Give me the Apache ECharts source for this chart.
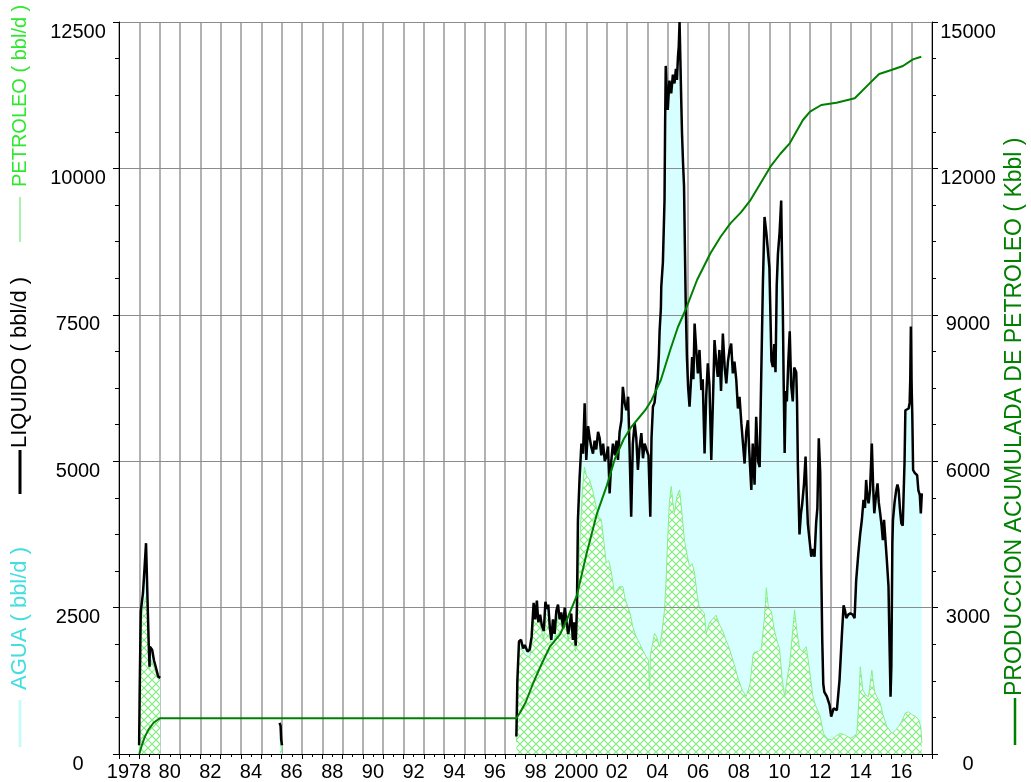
<!DOCTYPE html>
<html>
<head>
<meta charset="utf-8">
<title>Produccion</title>
<script src="https://cdn.jsdelivr.net/npm/echarts@6/dist/echarts.min.js"></script>
<style>
  html, body { margin: 0; padding: 0; background: #fff; }
  #prodChart { width: 1031px; height: 782px; }
</style>
</head>
<body>
<div id="prodChart"></div>
<script>
// etiquetas del eje de tiempo (una cada 2 años, desde 1978)
const xLabels = ['1978', '80', '82', '84', '86', '88', '90', '92', '94', '96', '98',
  '2000', '02', '04', '06', '08', '10', '12', '14', '16'];

// LIQUIDO (bbl/d) - [año decimal, valor]
const liquido = [
  [1978.99, 150], [1979.02, 1130], [1979.07, 2430], [1979.15, 2460], [1979.18, 2750], [1979.25, 3140],
  [1979.33, 3600], [1979.42, 3620], [1979.46, 1900], [1979.5, 1490], [1979.52, 1830], [1979.63, 1780],
  [1979.72, 1600], [1979.85, 1430], [1979.93, 1320], [1980.03, 1300], [1980.05, null],
  [1985.9, 530], [1985.95, 480], [1985.98, 250], [1986.02, 150], [1986.05, null],
  [1997.55, 300], [1997.6, 1260], [1997.68, 1920], [1997.78, 1950], [1997.88, 1800], [1997.96, 1860],
  [1998.1, 1750], [1998.2, 1780], [1998.3, 2000], [1998.4, 2580], [1998.48, 2300], [1998.56, 2620],
  [1998.63, 2250], [1998.72, 2380], [1998.8, 2200], [1998.9, 2100], [1998.98, 2600], [1999.05, 2480],
  [1999.12, 2550], [1999.2, 2150], [1999.27, 1950], [1999.35, 2300], [1999.43, 2050], [1999.52, 2450],
  [1999.6, 2550], [1999.68, 2300], [1999.76, 2420], [1999.85, 2150], [1999.93, 2500], [2000.0, 2300],
  [2000.1, 2050], [2000.17, 2200], [2000.25, 2400], [2000.33, 1950], [2000.4, 2250], [2000.47, 1850],
  [2000.53, 2500], [2000.58, 4000], [2000.66, 4700], [2000.75, 5300], [2000.83, 5130], [2000.91, 5990],
  [2000.99, 5020], [2001.08, 5600], [2001.15, 5420], [2001.23, 5250], [2001.32, 5130], [2001.4, 5350],
  [2001.48, 5200], [2001.57, 5500], [2001.65, 5390], [2001.73, 5100], [2001.82, 5300], [2001.9, 5000],
  [2001.98, 5080], [2002.06, 5250], [2002.14, 4450], [2002.22, 5000], [2002.3, 5300], [2002.4, 5100],
  [2002.48, 5350], [2002.55, 5020], [2002.63, 5500], [2002.72, 5700], [2002.79, 6270], [2002.88, 6000],
  [2002.96, 5870], [2003.05, 6100], [2003.12, 5200], [2003.2, 4050], [2003.28, 5300], [2003.37, 5650],
  [2003.45, 5400], [2003.53, 4850], [2003.6, 5200], [2003.7, 5480], [2003.78, 5050], [2003.86, 5300],
  [2003.95, 5200], [2004.05, 5100], [2004.14, 4050], [2004.2, 5400], [2004.27, 5930], [2004.35, 6000],
  [2004.43, 6270], [2004.5, 6390], [2004.56, 6800], [2004.6, 7240], [2004.66, 7600], [2004.68, 7980],
  [2004.76, 8400], [2004.84, 9460], [2004.87, 10800], [2004.9, 11750], [2004.95, 11300], [2005.0, 11000],
  [2005.08, 11500], [2005.17, 11280], [2005.25, 11600], [2005.33, 11450], [2005.4, 11700], [2005.45, 11510],
  [2005.5, 11900], [2005.54, 12080], [2005.58, 12500], [2005.62, 12480], [2005.66, 11200], [2005.7, 10600],
  [2005.75, 10100], [2005.8, 9690], [2005.84, 8700], [2005.88, 7750], [2005.94, 6800], [2006.0, 6270],
  [2006.07, 5930], [2006.13, 6300], [2006.2, 6780], [2006.26, 6400], [2006.32, 7350], [2006.4, 6900],
  [2006.48, 6500], [2006.56, 6900], [2006.65, 6215], [2006.72, 6400], [2006.81, 5130], [2006.89, 6100],
  [2006.97, 6670], [2007.05, 6300], [2007.14, 5020], [2007.22, 6000], [2007.3, 7070], [2007.38, 6700],
  [2007.46, 6440], [2007.54, 6900], [2007.62, 6200], [2007.71, 7180], [2007.8, 6600], [2007.88, 6330],
  [2007.96, 6700], [2008.04, 6900], [2008.12, 7010], [2008.2, 6500], [2008.28, 6700], [2008.37, 6390],
  [2008.45, 5900], [2008.53, 6100], [2008.62, 5650], [2008.7, 5300], [2008.78, 4960], [2008.86, 5500],
  [2008.94, 5700], [2009.02, 5100], [2009.11, 4510], [2009.18, 5300], [2009.27, 4600], [2009.35, 5760],
  [2009.44, 5000], [2009.52, 4900], [2009.6, 6500], [2009.68, 8040], [2009.76, 9170], [2009.85, 8900],
  [2009.93, 8920], [2010.0, 8300], [2010.1, 6710], [2010.17, 6610], [2010.24, 7000], [2010.3, 6520],
  [2010.36, 8000], [2010.42, 8540], [2010.5, 8900], [2010.58, 9450], [2010.62, 8500], [2010.66, 7600],
  [2010.7, 6400], [2010.75, 5140], [2010.8, 6200], [2010.86, 6020], [2010.93, 6700], [2011.0, 7220],
  [2011.07, 6300], [2011.15, 6020], [2011.22, 6600], [2011.32, 6520], [2011.36, 6000], [2011.4, 4950],
  [2011.48, 3750], [2011.55, 4100], [2011.61, 4260], [2011.7, 4600], [2011.78, 5080], [2011.84, 4400],
  [2011.89, 3940], [2011.96, 3700], [2012.06, 3370], [2012.14, 3500], [2012.22, 3370], [2012.3, 3950],
  [2012.36, 4200], [2012.43, 5390], [2012.5, 4800], [2012.55, 3190], [2012.6, 1950], [2012.65, 1200],
  [2012.7, 1060], [2012.83, 980], [2012.96, 840], [2013.04, 640], [2013.16, 780], [2013.24, 800],
  [2013.32, 750], [2013.45, 1260], [2013.57, 2060], [2013.65, 2540], [2013.72, 2450], [2013.78, 2320],
  [2013.88, 2380], [2013.98, 2400], [2014.1, 2380], [2014.19, 2320], [2014.27, 2970], [2014.37, 3400],
  [2014.47, 3770], [2014.55, 4000], [2014.63, 4340], [2014.7, 4200], [2014.76, 4680], [2014.82, 4400],
  [2014.88, 4280], [2014.95, 4500], [2015.04, 5300], [2015.1, 4600], [2015.16, 4110], [2015.24, 4400],
  [2015.32, 4620], [2015.38, 4300], [2015.45, 4110], [2015.52, 3900], [2015.58, 3650], [2015.64, 4000],
  [2015.7, 4000], [2015.78, 3300], [2015.86, 2860], [2015.9, 2060], [2015.96, 980], [2016.0, 1500],
  [2016.05, 3600], [2016.08, 4000], [2016.16, 4300], [2016.24, 4510], [2016.3, 4600], [2016.36, 4510],
  [2016.42, 4200], [2016.49, 3940], [2016.56, 3900], [2016.6, 3880], [2016.65, 5000], [2016.69, 5870],
  [2016.78, 5900], [2016.85, 5900], [2016.9, 6000], [2016.93, 6390], [2016.96, 7300], [2016.99, 6400],
  [2017.03, 5800], [2017.07, 4850], [2017.15, 4800], [2017.22, 4780], [2017.27, 4760], [2017.33, 4500],
  [2017.4, 4420], [2017.45, 4110], [2017.5, 4450]
];

// PETROLEO (bbl/d)
const petroleo = [
  [1979.0, 0], [1979.02, 900], [1979.07, 2300], [1979.2, 2500], [1979.3, 2650], [1979.4, 2700],
  [1979.46, 1900], [1979.5, 1450], [1979.6, 1600], [1979.7, 1500], [1979.85, 1350], [1980.0, 1250],
  [1980.03, 1250], [1980.05, null],
  [1985.93, 280], [1986.0, 30], [1986.05, null],
  [1997.55, 200], [1997.6, 1150], [1997.68, 1780], [1997.8, 1800], [1997.96, 1700], [1998.2, 1650],
  [1998.3, 1850], [1998.4, 2400], [1998.56, 2400], [1998.72, 2200], [1998.9, 1950], [1998.98, 2400],
  [1999.12, 2350], [1999.27, 1850], [1999.43, 1950], [1999.6, 2350], [1999.76, 2250], [1999.93, 2350],
  [2000.1, 1950], [2000.25, 2250], [2000.47, 1750], [2000.55, 2450], [2000.66, 3540], [2000.8, 4500],
  [2000.9, 4900], [2001.0, 4750], [2001.15, 4680], [2001.3, 4510], [2001.48, 4220], [2001.6, 4050],
  [2001.73, 4000], [2001.85, 3650], [2001.97, 3260], [2002.1, 3300], [2002.22, 3110], [2002.38, 2740],
  [2002.6, 2850], [2002.79, 2860], [2002.9, 2650], [2003.04, 2510], [2003.15, 2400], [2003.28, 2170],
  [2003.45, 2000], [2003.61, 1890], [2003.8, 1750], [2003.94, 1660], [2004.05, 1600], [2004.1, 1090],
  [2004.15, 1700], [2004.35, 2060], [2004.45, 2000], [2004.6, 1830], [2004.72, 2100], [2004.84, 2460],
  [2004.92, 3000], [2005.0, 3710], [2005.08, 4300], [2005.17, 4570], [2005.25, 4300], [2005.33, 4120],
  [2005.45, 4400], [2005.58, 4510], [2005.7, 4100], [2005.82, 3650], [2005.95, 3400], [2006.07, 3200],
  [2006.2, 3250], [2006.32, 3090], [2006.45, 2700], [2006.56, 2490], [2006.7, 2450], [2006.8, 2400],
  [2006.89, 2060], [2007.05, 2240], [2007.2, 2300], [2007.38, 2370], [2007.55, 2200], [2007.7, 2110],
  [2007.85, 1950], [2008.0, 1830], [2008.2, 1610], [2008.45, 1300], [2008.65, 1100], [2008.86, 980],
  [2009.05, 1200], [2009.2, 1700], [2009.27, 1740], [2009.45, 1750], [2009.6, 1800], [2009.75, 2300],
  [2009.85, 2840], [2009.95, 2500], [2010.1, 2430], [2010.25, 2100], [2010.4, 1900], [2010.5, 1800],
  [2010.62, 1300], [2010.75, 980], [2010.88, 1300], [2011.0, 1550], [2011.12, 2000], [2011.24, 2460],
  [2011.35, 2100], [2011.48, 1800], [2011.62, 1750], [2011.81, 1830], [2011.95, 1500], [2012.14, 980],
  [2012.3, 800], [2012.5, 640], [2012.66, 350], [2012.85, 260], [2013.07, 240], [2013.25, 300],
  [2013.48, 350], [2013.7, 330], [2013.98, 270], [2014.15, 300], [2014.3, 350], [2014.4, 900],
  [2014.47, 1490], [2014.6, 1090], [2014.75, 1000], [2014.88, 980], [2015.04, 1430], [2015.12, 1200],
  [2015.2, 1040], [2015.45, 870], [2015.6, 650], [2015.78, 470], [2016.03, 350], [2016.2, 400],
  [2016.36, 470], [2016.5, 550], [2016.69, 700], [2016.85, 720], [2017.02, 670], [2017.2, 640],
  [2017.35, 580], [2017.45, 450], [2017.5, 190]
];

// PRODUCCION ACUMULADA DE PETROLEO (Kbbl)
const acumulada = [
  [1979.0, 0], [1979.1, 150], [1979.25, 330], [1979.45, 500], [1979.7, 640], [1980.0, 731],
  [1997.55, 731], [1997.72, 840], [1998.0, 1050], [1998.38, 1455], [1998.8, 1850], [1999.2, 2200],
  [1999.7, 2450], [2000.03, 2746], [2000.53, 3250], [2001.0, 4100], [2001.52, 4932], [2002.0, 5500],
  [2002.4, 6050], [2002.83, 6450], [2003.2, 6700], [2003.49, 6844], [2003.9, 7050], [2004.2, 7250],
  [2004.66, 7664], [2005.12, 8279], [2005.5, 8750], [2005.87, 9098], [2006.44, 9713], [2007.1, 10260],
  [2007.6, 10600], [2008.08, 10874], [2008.6, 11100], [2009.07, 11352], [2009.5, 11650], [2010.05, 12035],
  [2010.54, 12300], [2011.0, 12514], [2011.65, 12992], [2012.0, 13162], [2012.55, 13299], [2013.3, 13346],
  [2014.2, 13436], [2014.93, 13743], [2015.4, 13934], [2016.0, 14016], [2016.57, 14098], [2017.06, 14235],
  [2017.47, 14289]
];

const FONT = '"Liberation Sans", Arial, sans-serif';

// trama cruzada para el area de petroleo
function makeHatch() {
  const c = document.createElement('canvas');
  c.width = 8;
  c.height = 8;
  const g = c.getContext('2d');
  g.fillStyle = '#ffffff';
  g.fillRect(0, 0, 8, 8);
  g.strokeStyle = '#7cf07c';
  g.lineWidth = 1.2;
  g.beginPath();
  g.moveTo(0, 0); g.lineTo(8, 8);
  g.moveTo(8, 0); g.lineTo(0, 8);
  g.stroke();
  return c;
}

const plainNumber = function (v) { return String(v); };

const myChart = echarts.init(document.getElementById('prodChart'), null, {renderer: 'canvas'});

const xCommon = {type: 'value', min: 1978, max: 2018, interval: 1};

const option = {
  animation: false,
  backgroundColor: '#ffffff',
  grid: {left: 119, right: 99, top: 22, bottom: 28, containLabel: false},
  xAxis: [
    Object.assign({}, xCommon, {
      // solo las lineas verticales, debajo de las areas
      z: 0,
      axisLine: {show: false},
      axisTick: {show: false},
      axisLabel: {show: false},
      splitLine: {show: true, lineStyle: {color: '#999', width: 1.5}}
    }),
    Object.assign({}, xCommon, {
      z: 7,
      position: 'bottom',
      offset: 0,
      axisLine: {show: true, lineStyle: {color: '#000', width: 1}},
      axisTick: {show: true, length: 5, lineStyle: {color: '#000'}},
      minorTick: {show: true, splitNumber: 2, length: 3, lineStyle: {color: '#000'}},
      splitLine: {show: false},
      axisLabel: {
        show: true,
        color: '#000',
        fontFamily: FONT,
        fontSize: 20,
        margin: 8,
        padding: [0, 0, 0, 20],
        formatter: function (v) {
          const k = v - 1978;
          if (k % 2 !== 0) return '';
          return xLabels[k / 2] || '';
        }
      }
    })
  ],
  yAxis: [
    {
      type: 'value',
      position: 'left',
      min: 0,
      max: 12500,
      interval: 2500,
      z: 4,
      axisLine: {show: true, lineStyle: {color: '#000', width: 1}},
      axisTick: {show: true, length: 6, lineStyle: {color: '#000'}},
      minorTick: {show: true, splitNumber: 4, length: 4, lineStyle: {color: '#000'}},
      splitLine: {show: true, lineStyle: {color: '#8c8c8c', width: 1}},
      axisLabel: {
        color: '#000', fontFamily: FONT, fontSize: 20,
        verticalAlign: 'top', align: 'center', margin: 41,
        formatter: plainNumber
      }
    },
    {
      type: 'value',
      position: 'right',
      min: 0,
      max: 15000,
      interval: 3000,
      z: 7,
      axisLine: {show: true, lineStyle: {color: '#000', width: 1}},
      axisTick: {show: true, length: 6, lineStyle: {color: '#000'}},
      minorTick: {show: true, splitNumber: 4, length: 4, lineStyle: {color: '#000'}},
      splitLine: {show: false},
      axisLabel: {
        color: '#000', fontFamily: FONT, fontSize: 20,
        verticalAlign: 'top', align: 'center', margin: 36,
        formatter: plainNumber
      }
    }
  ],
  series: [
    {
      name: 'AGUA',
      type: 'line',
      z: 1,
      silent: true,
      data: liquido,
      showSymbol: false,
      lineStyle: {width: 0, opacity: 0},
      areaStyle: {color: '#d8ffff', opacity: 1}
    },
    {
      name: 'PETROLEO',
      type: 'line',
      z: 3,
      data: petroleo,
      showSymbol: false,
      lineStyle: {color: '#86ee86', width: 1},
      areaStyle: {color: {image: makeHatch(), repeat: 'repeat'}, opacity: 1}
    },
    {
      name: 'LIQUIDO',
      type: 'line',
      z: 5,
      data: liquido,
      showSymbol: false,
      lineStyle: {color: '#000', width: 2.5}
    },
    {
      name: 'ACUMULADA',
      type: 'line',
      z: 6,
      yAxisIndex: 1,
      data: acumulada,
      showSymbol: false,
      lineStyle: {color: '#008000', width: 2}
    }
  ],
  graphic: [
    {
      type: 'group',
      x: 20,
      y: 762,
      rotation: Math.PI / 2,
      children: [
        {type: 'line', shape: {x1: 15, y1: 0, x2: 62, y2: 0}, style: {stroke: '#c8fafa', lineWidth: 3}},
        {type: 'text', x: 72, y: 0, style: {text: 'AGUA ( bbl/d )', fill: '#44dede', font: '22px ' + FONT, textAlign: 'left', verticalAlign: 'middle'}},
        {type: 'line', shape: {x1: 268, y1: 0, x2: 312, y2: 0}, style: {stroke: '#000', lineWidth: 3}},
        {type: 'text', x: 314, y: 0, style: {text: 'LIQUIDO ( bbl/d )', fill: '#000', font: '22px ' + FONT, textAlign: 'left', verticalAlign: 'middle'}},
        {type: 'line', shape: {x1: 520, y1: 0, x2: 565, y2: 0}, style: {stroke: '#90ee90', lineWidth: 1.5}},
        {type: 'text', x: 575, y: 0, style: {text: 'PETROLEO ( bbl/d )', fill: '#2ee82e', font: '20px ' + FONT, textAlign: 'left', verticalAlign: 'middle'}}
      ]
    },
    {
      type: 'group',
      x: 1015,
      y: 750,
      rotation: Math.PI / 2,
      children: [
        {type: 'line', shape: {x1: 5, y1: 0, x2: 52, y2: 0}, style: {stroke: '#008000', lineWidth: 2.5}},
        {type: 'text', x: 54, y: 0, style: {text: 'PRODUCCION ACUMULADA DE PETROLEO ( Kbbl )', fill: '#008000', font: '23px ' + FONT, textAlign: 'left', verticalAlign: 'middle'}}
      ]
    }
  ]
};

myChart.setOption(option);
</script>
</body>
</html>
